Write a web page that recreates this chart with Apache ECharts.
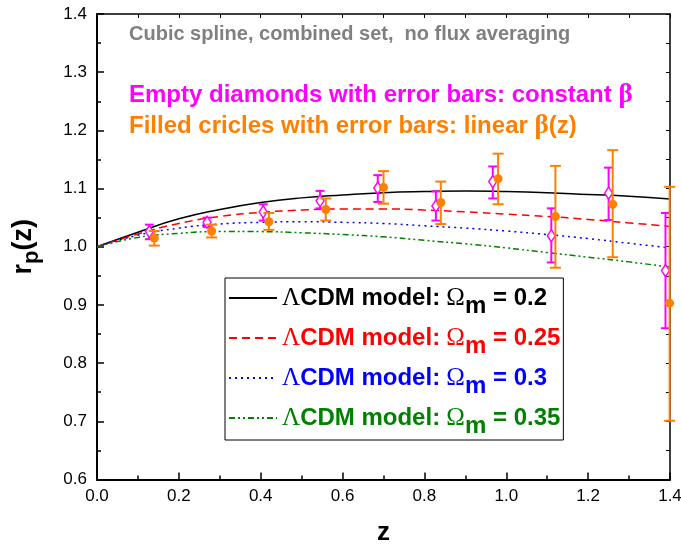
<!DOCTYPE html>
<html><head><meta charset="utf-8">
<script src="https://cdn.jsdelivr.net/npm/echarts@6/dist/echarts.min.js"></script>
<style>html,body{margin:0;padding:0;background:#fff}#c{width:681px;height:548px}</style>
</head><body><div id="c"></div>
<script>
// ---- data ----
const zModel = [0, 0.1, 0.2, 0.3, 0.4, 0.5, 0.6, 0.7, 0.8, 0.9, 1.0, 1.1, 1.2, 1.3, 1.4];
const rOm020 = [1.000, 1.025, 1.048, 1.064, 1.076, 1.084, 1.089, 1.093, 1.095, 1.096, 1.095, 1.093, 1.090, 1.087, 1.082];
const rOm025 = [1.000, 1.022, 1.040, 1.052, 1.059, 1.063, 1.065, 1.065, 1.063, 1.060, 1.056, 1.052, 1.047, 1.041, 1.035];
const rOm030 = [1.000, 1.020, 1.032, 1.039, 1.042, 1.043, 1.042, 1.040, 1.036, 1.032, 1.027, 1.021, 1.014, 1.006, 0.998];
const rOm035 = [1.000, 1.016, 1.023, 1.026, 1.026, 1.024, 1.021, 1.017, 1.011, 1.005, 0.998, 0.990, 0.982, 0.974, 0.965];

// constant beta (empty diamonds)
const zConst  = [0.128, 0.269, 0.406, 0.545, 0.686, 0.828, 0.967, 1.110, 1.250, 1.389];
const rConst  = [1.026, 1.042, 1.060, 1.079, 1.101, 1.070, 1.112, 1.019, 1.092, 0.959];
const loConst = [1.013, 1.034, 1.045, 1.066, 1.077, 1.045, 1.083, 0.973, 1.046, 0.860];
const hiConst = [1.038, 1.050, 1.073, 1.096, 1.123, 1.095, 1.138, 1.066, 1.136, 1.058];

// linear beta(z) (filled circles)
const zLin  = [0.140, 0.280, 0.420, 0.559, 0.700, 0.840, 0.980, 1.120, 1.260, 1.399];
const rLin  = [1.015, 1.027, 1.043, 1.064, 1.102, 1.076, 1.117, 1.052, 1.073, 0.903];
const loLin = [1.002, 1.016, 1.029, 1.045, 1.074, 1.039, 1.073, 0.964, 0.982, 0.701];
const hiLin = [1.027, 1.038, 1.058, 1.083, 1.130, 1.112, 1.160, 1.139, 1.166, 1.103];

const omegaLabels = ['0.2', '0.25', '0.3', '0.35'];
const modelNames = omegaLabels.map(o => 'ΛCDM model: Ωm = ' + o);
const xTicks = {min: 0, max: 1.4, interval: 0.2};
const yTicks = {min: 0.6, max: 1.4, interval: 0.1};

// ---- styles ----
const SANS = '"Liberation Sans", Arial, Helvetica, sans-serif';
const SERIF = '"Liberation Serif", "Times New Roman", serif';
const lineColors = ['#000000', '#ff0000', '#0000ff', '#008000'];
const lineDash = ['solid', [8, 5], [2, 4], [6, 3, 2, 3, 2, 3]];
const MAGENTA = '#ff00ff', ORANGE = '#ff8000';

const legendRich = {};
lineColors.forEach((c, i) => {
  legendRich['t' + i] = {fontFamily: SANS, fontWeight: 'bold', fontSize: 24, color: c, lineHeight: 30};
  legendRich['g' + i] = {fontFamily: SERIF, fontSize: 25, color: c, lineHeight: 30};
  legendRich['s' + i] = {fontFamily: SANS, fontWeight: 'bold', fontSize: 24, color: c, lineHeight: 14, padding: [16, 0, 0, 0]};
});

function errBar(color, capW) {
  return function (params, api) {
    const x = api.value(0);
    const top = api.coord([x, api.value(2)]);
    const bot = api.coord([x, api.value(1)]);
    const st = {stroke: color, lineWidth: 2};
    return {type: 'group', children: [
      {type: 'line', shape: {x1: top[0], y1: top[1], x2: bot[0], y2: bot[1]}, style: st},
      {type: 'line', shape: {x1: top[0] - capW / 2, y1: top[1], x2: top[0] + capW / 2, y2: top[1]}, style: st},
      {type: 'line', shape: {x1: bot[0] - capW / 2, y1: bot[1], x2: bot[0] + capW / 2, y2: bot[1]}, style: st}
    ]};
  };
}

const lineSeries = [rOm020, rOm025, rOm030, rOm035].map((arr, i) => ({
  name: modelNames[i], type: 'line', smooth: true, symbol: 'none', z: 2,
  data: zModel.map((z, k) => [z, arr[k]]),
  lineStyle: {color: lineColors[i], width: 1.5, type: lineDash[i]},
  itemStyle: {color: lineColors[i]}
}));

const chart = echarts.init(document.getElementById('c'));
chart.setOption({
  animation: false,
  backgroundColor: '#fff',
  grid: {left: 97, right: 11, top: 14, bottom: 68.5, containLabel: false, outerBoundsMode: 'none'},
  title: [
    {text: 'Cubic spline, combined set,  no flux averaging', left: 129, top: 24, padding: 0,
     textStyle: {fontFamily: SANS, fontWeight: 'bold', fontSize: 20, color: '#808080', lineHeight: 20}},
    {text: '{a|Empty diamonds with error bars: constant }{g|β}', left: 129, top: 83, padding: 0,
     textStyle: {rich: {
       a: {fontFamily: SANS, fontWeight: 'bold', fontSize: 24, color: MAGENTA, lineHeight: 24},
       g: {fontFamily: SERIF, fontSize: 27, color: MAGENTA, lineHeight: 24}}}},
    {text: '{a|Filled cricles with error bars: linear }{g|β}{a|(z)}', left: 129, top: 114, padding: 0,
     textStyle: {rich: {
       a: {fontFamily: SANS, fontWeight: 'bold', fontSize: 24, color: ORANGE, lineHeight: 24},
       g: {fontFamily: SERIF, fontSize: 27, color: ORANGE, lineHeight: 24}}}}
  ],
  legend: {
    orient: 'vertical', left: 225, top: 278,
    padding: [0, 3, 2, 3], itemGap: 0, itemWidth: 48, itemHeight: 14,
    borderColor: '#000', borderWidth: 1, backgroundColor: '#fff',
    selectedMode: false,
    itemStyle: {opacity: 0},
    data: modelNames.map(n => ({name: n})),
    formatter: function (name) {
      const i = modelNames.indexOf(name);
      return '{g' + i + '|Λ}{t' + i + '|CDM model:}{g' + i + '| Ω}{s' + i + '|m}{t' + i + '| = ' + omegaLabels[i] + '}';
    },
    textStyle: {rich: legendRich}
  },
  xAxis: [
    {type: 'value', position: 'bottom', min: xTicks.min, max: xTicks.max, interval: xTicks.interval,
     name: 'z', nameLocation: 'middle', nameGap: 40,
     nameTextStyle: {fontFamily: SANS, fontWeight: 'bold', fontSize: 26, color: '#000'},
     axisLine: {show: true, onZero: false, lineStyle: {color: '#000', width: 2}},
     axisTick: {show: true, inside: true, length: 7, lineStyle: {color: '#000', width: 1.5}},
     minorTick: {show: true, splitNumber: 2, length: 4, lineStyle: {color: '#000', width: 1.5}},
     axisLabel: {formatter: v => v.toFixed(1), fontFamily: SANS, fontSize: 17, color: '#000', margin: 8},
     splitLine: {show: false}},
    {type: 'value', position: 'top', min: xTicks.min, max: xTicks.max, interval: 0.1,
     axisLine: {show: true, onZero: false, lineStyle: {color: '#000', width: 1.5}},
     axisTick: {show: true, inside: true, length: 4, lineStyle: {color: '#000', width: 1}},
     axisLabel: {show: false}, splitLine: {show: false}}
  ],
  yAxis: [
    {type: 'value', position: 'left', min: yTicks.min, max: yTicks.max, interval: yTicks.interval,
     name: '{r|r}{s|p}{r|(z)}', nameLocation: 'middle', nameGap: 58,
     nameTextStyle: {rich: {
       r: {fontFamily: SANS, fontWeight: 'bold', fontSize: 27, color: '#000', lineHeight: 30},
       s: {fontFamily: SANS, fontWeight: 'bold', fontSize: 22, color: '#000', lineHeight: 14, padding: [16, 0, 0, 0]}}},
     axisLine: {show: true, onZero: false, lineStyle: {color: '#000', width: 2}},
     axisTick: {show: true, inside: true, length: 7, lineStyle: {color: '#000', width: 1.5}},
     minorTick: {show: true, splitNumber: 2, length: 4, lineStyle: {color: '#000', width: 1.5}},
     axisLabel: {formatter: v => v.toFixed(1), fontFamily: SANS, fontSize: 17, color: '#000', margin: 10},
     splitLine: {show: false}},
    {type: 'value', position: 'right', min: yTicks.min, max: yTicks.max, interval: 0.05,
     axisLine: {show: true, onZero: false, lineStyle: {color: '#000', width: 1.5}},
     axisTick: {show: true, inside: true, length: 4, lineStyle: {color: '#000', width: 1}},
     axisLabel: {show: false}, splitLine: {show: false}}
  ],
  series: lineSeries.concat([
    {name: 'errConst', type: 'custom', z: 3, renderItem: errBar(MAGENTA, 9),
     encode: {x: 0, y: [1, 2]},
     data: zConst.map((z, k) => [z, loConst[k], hiConst[k]])},
    {name: 'constant beta', type: 'scatter', z: 4, symbol: 'diamond', symbolSize: [8, 12],
     itemStyle: {color: '#fff', borderColor: MAGENTA, borderWidth: 1.5, opacity: 1},
     data: zConst.map((z, k) => [z, rConst[k]])},
    {name: 'errLin', type: 'custom', z: 5, renderItem: errBar(ORANGE, 11),
     encode: {x: 0, y: [1, 2]},
     data: zLin.map((z, k) => [z, loLin[k], hiLin[k]])},
    {name: 'linear beta', type: 'scatter', z: 6, symbol: 'circle', symbolSize: 9,
     itemStyle: {color: ORANGE, opacity: 1},
     data: zLin.map((z, k) => [z, rLin[k]])}
  ])
});
</script>
</body></html>
